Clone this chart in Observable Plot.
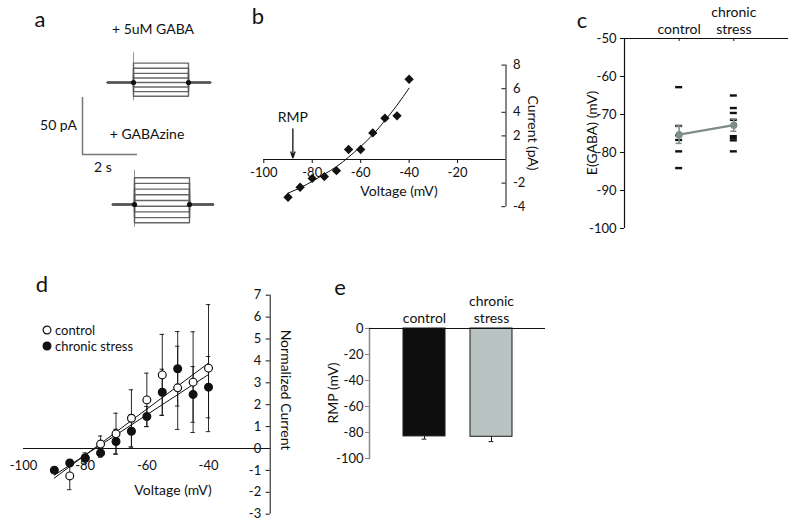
<!DOCTYPE html>
<html>
<head>
<meta charset="utf-8">
<script src="https://cdn.jsdelivr.net/npm/d3@7"></script>
<script src="https://cdn.jsdelivr.net/npm/@observablehq/plot@0.6"></script>
<style>
  body { margin: 0; background: #fff; }
  #fig { position: relative; width: 800px; height: 530px; overflow: hidden; font-family: Lato, "Noto Sans", sans-serif; color: #111; background: #fff; }
  #fig svg { overflow: visible; }
</style>
</head>
<body>
<div id="fig"></div>
<script>
// ---------- panel a: step traces ----------
const gabaStepLevels = [17, 12.5, 8, 4, 0, -4, -8, -12];            // pA
const gabazineStepLevels = [23.5, 18.5, 13.5, 8.5, 3.5, -1.5, -6.5, -11.5, -16];
const stepWindow = [0, 2];                                            // s
const gabaSweepSpan = [-0.95, 2.8];
const gabazineSweepSpan = [-0.8, 2.87];
const gabaOnsetSpike = [-16, 26];
const gabazineOnsetSpike = [-20, 30];
const scaleBar = {pA: 50, s: 2};

// ---------- panel b: I-V curve ----------
const bVoltage = [-90, -85, -80, -75, -70, -65, -60, -55, -50, -45, -40];
const bCurrent = [-3.2, -2.35, -1.6, -1.45, -0.95, 0.85, 0.85, 2.25, 3.5, 3.7, 6.8];
const bFitVoltage = [-90, -85, -80, -75, -70, -65, -60, -55, -50, -45, -40];
const bFitCurrent = [-2.85, -2.4, -1.85, -1.25, -0.6, 0.2, 1.1, 2.1, 3.3, 4.6, 6.05];
const bRMP = -88;
const bXTicks = [-100, -80, -60, -40, -20];
const bYTicks = [-4, -2, 2, 4, 6, 8];

// ---------- panel c: E(GABA) ----------
const cGroups = ["control", "chronic stress"];
const cControlCells = [-62.8, -73, -75.5, -76.7, -79.7, -84.1];
const cStressCells = [-65, -68.3, -69.6, -71.4, -75.7, -76.2, -76.8, -79.7];
const cMeans = [-75.3, -72.8];
const cSEM = [2.3, 1.6];
const cYTicks = [-50, -60, -70, -80, -90, -100];

// ---------- panel d: normalized I-V ----------
const dControlV = [-85, -80, -75, -70, -65, -60, -55, -50, -45, -40];
const dControlI = [-1.25, -0.45, 0.2, 0.67, 1.38, 2.22, 3.36, 2.77, 3.03, 3.67];
const dControlErr = [0.63, 0.25, 0.37, 0.94, 1.3, 1.22, 1.85, 1.9, 2.3, 2.9];
const dStressV = [-90, -85, -80, -75, -70, -65, -60, -55, -50, -45, -40];
const dStressI = [-0.99, -0.66, -0.43, -0.2, 0.32, 0.79, 1.46, 2.57, 3.64, 2.47, 2.8];
const dStressErr = [0.1, 0.1, 0.15, 0.2, 0.56, 0.76, 0.46, 1.05, 1.7, 1.27, 1.4];
const dControlFitV = [-90, -40];
const dControlFitI = [-1.35, 3.9];
const dStressFitV = [-90, -40];
const dStressFitI = [-1.22, 3.38];
const dXTicks = [-100, -80, -60, -40];
const dYTicks = [-3, -2, -1, 0, 1, 2, 3, 4, 5, 6, 7];

// ---------- panel e: RMP ----------
const eGroups = ["control", "chronic stress"];
const eRMP = [-83, -83.3];
const eSEM = [2.1, 3.7];
const eYTicks = [0, -20, -40, -60, -80, -100];

// ---------- helpers ----------
const FONT = "Lato, 'Noto Sans', sans-serif";
const fig = document.getElementById("fig");
const baseStyle = {fontFamily: FONT, fontSize: "13px", background: "transparent", overflow: "visible", color: "#111"};
function place(node, left, top) {
  node.style.position = "absolute";
  node.style.left = left + "px";
  node.style.top = top + "px";
  fig.appendChild(node);
}
function label(text, x, y, {size = 14, rotate = 0, anchor = "middle"} = {}) {
  const d = document.createElement("div");
  d.textContent = text;
  const tx = anchor === "middle" ? "-50%" : anchor === "end" ? "-100%" : "0";
  d.style.cssText = `position:absolute;left:${x}px;top:${y}px;font-size:${size}px;line-height:1;white-space:nowrap;transform:translate(${tx},-50%) rotate(${rotate}deg);`;
  fig.appendChild(d);
}
const fmt = d => String(d);

// ---------- panel a ----------
function sweeps(levels, span) {
  return levels.flatMap((L, k) => [
    {k, t: span[0], i: 0}, {k, t: stepWindow[0], i: 0}, {k, t: stepWindow[0], i: L},
    {k, t: stepWindow[1], i: L}, {k, t: stepWindow[1], i: 0}, {k, t: span[1], i: 0}
  ]);
}
function tracePlot(levels, span, spike) {
  return Plot.plot({
    width: 240, height: 130, margin: 0, style: baseStyle,
    x: {domain: [0, 2], range: [133, 188], axis: null},
    y: {domain: [0, 50], range: [82, 25], axis: null},
    marks: [
      Plot.ruleX([stepWindow[0]], {x: d => d, y1: spike[0], y2: spike[1], stroke: "#777", strokeWidth: 0.8}),
      Plot.line(sweeps(levels, span), {x: "t", y: "i", z: "k", stroke: "#555", strokeWidth: 1.4, strokeOpacity: 0.9}),
      Plot.dot(stepWindow, {x: d => d, y: 0, r: 2.6, fill: "#111"})
    ]
  });
}
place(tracePlot(gabaStepLevels, gabaSweepSpan, gabaOnsetSpike), 0, 0);
place(tracePlot(gabazineStepLevels, gabazineSweepSpan, gabazineOnsetSpike), 1, 122);
place(Plot.plot({
  width: 240, height: 200, margin: 0, style: baseStyle,
  x: {domain: [0, 2], range: [82, 137], axis: null},
  y: {domain: [0, 50], range: [154, 97], axis: null},
  marks: [
    Plot.ruleX([0], {y1: 0, y2: scaleBar.pA, stroke: "#777", strokeWidth: 1.5}),
    Plot.ruleY([0], {x1: 0, x2: scaleBar.s, stroke: "#777", strokeWidth: 1.5})
  ]
}), 0, 0);
label("a", 40, 19, {size: 22});
label("+ 5uM GABA", 153, 29, {size: 14});
label("+ GABAzine", 147, 134, {size: 14});
label("50 pA", 77, 125, {size: 14, anchor: "end"});
label("2 s", 103, 167, {size: 14});

// ---------- panel b ----------
const bPoints = bVoltage.map((v, k) => ({v, i: bCurrent[k]}));
const bFit = bFitVoltage.map((v, k) => ({v, i: bFitCurrent[k]}));
place(Plot.plot({
  width: 330, height: 230, margin: 0, style: baseStyle,
  x: {domain: [-100, 0], range: [33.3, 275.5], axis: null},
  y: {domain: [-4, 8], range: [206.2, 64.6], axis: null},
  marks: [
    Plot.ruleY([0], {x1: -100, x2: 0, stroke: "#111"}),
    Plot.ruleX([0], {y1: -4, y2: 8, stroke: "#111"}),
    Plot.ruleX(bXTicks, {x: d => d, y1: 0, y2: 0, insetBottom: -4, stroke: "#111"}),
    Plot.text(bXTicks, {x: d => d, y: 0, dy: 13, text: fmt, fontSize: 13, fill: "#111"}),
    Plot.ruleY(bYTicks, {y: d => d, x1: 0, x2: 0, insetLeft: -4, stroke: "#111"}),
    Plot.text(bYTicks, {x: 0, y: d => d, dx: 7, textAnchor: "start", text: fmt, fontSize: 13, fill: "#111"}),
    Plot.line(bFit, {x: "v", y: "i", curve: "natural", stroke: "#111", strokeWidth: 1}),
    Plot.dot(bPoints, {x: "v", y: "i", symbol: "diamond2", r: 4.2, fill: "#111"}),
    Plot.arrow([bRMP], {x1: d => d, x2: d => d, y1: 2.6, y2: 0.15, headLength: 7, headAngle: 40, stroke: "#111", strokeWidth: 1.3}),
    Plot.text(["RMP"], {x: bRMP, y: 2.6, dy: -7, lineAnchor: "bottom", fontSize: 14, fill: "#111"})
  ]
}), 230, 0);
label("b", 258, 16, {size: 22});
label("Voltage (mV)", 399, 191, {size: 14});
label("Current (pA)", 533, 133, {size: 14, rotate: 90});

// ---------- panel c ----------
const cCells = [
  ...cControlCells.map(v => ({g: 1, v})),
  ...cStressCells.map(v => ({g: 2, v}))
];
const cMeanData = cGroups.map((name, k) => ({name, g: k + 1, m: cMeans[k], se: cSEM[k]}));
const grey = "#7d8d8a";
place(Plot.plot({
  width: 240, height: 250, margin: 0, style: baseStyle,
  x: {domain: [0, 3], range: [64, 228], axis: null},
  y: {domain: [-100, -50], range: [228, 38], axis: null},
  marks: [
    Plot.ruleX([0], {y1: -100, y2: -50, stroke: "#111", strokeWidth: 1.2}),
    Plot.ruleY([-50], {x1: 0, x2: 3, stroke: "#111", strokeWidth: 1.2}),
    Plot.ruleY(cYTicks, {y: d => d, x1: 0, x2: 0, insetLeft: -4, stroke: "#111"}),
    Plot.text(cYTicks, {x: 0, y: d => d, dx: -8, textAnchor: "end", text: fmt, fontSize: 13, fill: "#111"}),
    Plot.ruleX(cMeanData, {x: "g", y1: -50, y2: -50, insetBottom: -3, stroke: "#111"}),
    Plot.text(cMeanData, {x: "g", y: -50, dy: -5, lineAnchor: "bottom", lineHeight: 1.15, text: d => d.name.replace(" ", "\n"), fontSize: 14, fill: "#111"}),
    Plot.ruleY(cCells, {y: "v", x1: "g", x2: "g", insetLeft: -3.5, insetRight: -3.5, stroke: "#111", strokeWidth: 2.4}),
    Plot.ruleX(cMeanData, {x: "g", y1: d => d.m - d.se, y2: d => d.m + d.se, stroke: grey, strokeWidth: 1.5}),
    Plot.ruleY(cMeanData, {y: d => d.m - d.se, x1: "g", x2: "g", insetLeft: -3, insetRight: -3, stroke: grey, strokeWidth: 1.5}),
    Plot.ruleY(cMeanData, {y: d => d.m + d.se, x1: "g", x2: "g", insetLeft: -3, insetRight: -3, stroke: grey, strokeWidth: 1.5}),
    Plot.line(cMeanData, {x: "g", y: "m", stroke: grey, strokeWidth: 2.2}),
    Plot.dot(cMeanData, {x: "g", y: "m", r: 3.6, fill: grey})
  ]
}), 560, 0);
label("c", 582, 20, {size: 22});
label("E(GABA) (mV)", 592, 133, {size: 14, rotate: -90});

// ---------- panel d ----------
const dCtrl = dControlV.map((v, k) => ({v, i: dControlI[k], e: dControlErr[k]}));
const dStress = dStressV.map((v, k) => ({v, i: dStressI[k], e: dStressErr[k]}));
const dFits = [
  ...dControlFitV.map((v, k) => ({s: "control", v, i: dControlFitI[k]})),
  ...dStressFitV.map((v, k) => ({s: "stress", v, i: dStressFitI[k]}))
];
function errMarks(data) {
  return [
    Plot.ruleX(data, {x: "v", y1: d => d.i - d.e, y2: d => d.i + d.e, stroke: "#111", strokeWidth: 0.9}),
    Plot.ruleY(data, {y: d => d.i - d.e, x1: "v", x2: "v", insetLeft: -2.2, insetRight: -2.2, stroke: "#111", strokeWidth: 0.9}),
    Plot.ruleY(data, {y: d => d.i + d.e, x1: "v", x2: "v", insetLeft: -2.2, insetRight: -2.2, stroke: "#111", strokeWidth: 0.9})
  ];
}
place(Plot.plot({
  width: 320, height: 260, margin: 0, style: baseStyle,
  x: {domain: [-100, -20], range: [23, 269.7], axis: null},
  y: {domain: [-3, 7], range: [243.7, 24.7], axis: null},
  marks: [
    Plot.ruleY([0], {x1: -100, x2: -20, stroke: "#111"}),
    Plot.ruleX([-20], {y1: -3, y2: 7, stroke: "#111"}),
    Plot.ruleY(dYTicks, {y: d => d, x1: -20, x2: -20, insetLeft: -4, stroke: "#111"}),
    Plot.text(dYTicks, {x: -20, y: d => d, dx: -9, textAnchor: "end", text: fmt, fontSize: 13, fill: "#111"}),
    Plot.text(dXTicks, {x: d => d, y: 0, dy: 17, text: fmt, fontSize: 13, fill: "#111"}),
    ...errMarks(dCtrl),
    ...errMarks(dStress),
    Plot.line(dFits, {x: "v", y: "i", z: "s", stroke: "#111", strokeWidth: 1}),
    Plot.dot(dCtrl, {x: "v", y: "i", r: 3.9, fill: "#fff", stroke: "#111", strokeWidth: 1.2}),
    Plot.dot(dStress, {x: "v", y: "i", r: 3.9, fill: "#111", stroke: "#111", strokeWidth: 1.2})
  ]
}), 0, 270);
label("d", 42, 284, {size: 22});
label("Voltage (mV)", 173, 490, {size: 14});
label("Normalized Current", 286, 390, {size: 14, rotate: 90});
// legend
(function legend() {
  const items = [{t: "control", filled: false, y: 330}, {t: "chronic stress", filled: true, y: 346}];
  for (const it of items) {
    const s = document.createElementNS("http://www.w3.org/2000/svg", "svg");
    s.setAttribute("width", 12); s.setAttribute("height", 12);
    s.style.cssText = `position:absolute;left:${47 - 6}px;top:${it.y - 6}px;`;
    const c = document.createElementNS("http://www.w3.org/2000/svg", "circle");
    c.setAttribute("cx", 6); c.setAttribute("cy", 6); c.setAttribute("r", 3.9);
    c.setAttribute("fill", it.filled ? "#111" : "#fff");
    c.setAttribute("stroke", "#111"); c.setAttribute("stroke-width", 1.2);
    s.appendChild(c); fig.appendChild(s);
    label(it.t, 55, it.y, {size: 13, anchor: "start"});
  }
})();

// ---------- panel e ----------
const eData = eGroups.map((g, k) => ({g, v: eRMP[k], se: eSEM[k]}));
place(Plot.plot({
  width: 260, height: 200, marginLeft: 69, marginRight: 15, marginTop: 48, marginBottom: 22, style: baseStyle,
  x: {type: "band", domain: eGroups, paddingInner: 0.38, paddingOuter: 0.485, axis: null},
  y: {domain: [-100, 0], axis: null},
  marks: [
    Plot.frame({anchor: "left", stroke: "#888", strokeWidth: 1.5}),
    Plot.axisY({ticks: eYTicks, tickSize: 4, tickPadding: 2, stroke: "#888", fill: "#111", tickFormat: fmt, label: null, fontSize: 13}),
    Plot.ruleX(eData, {x: "g", y1: "v", y2: d => d.v - d.se, stroke: "#111", strokeWidth: 1}),
    Plot.tickY(eData, {x: "g", y: d => d.v - d.se, inset: 18.6, stroke: "#111", strokeWidth: 1}),
    Plot.barY(eData, {x: "g", y: "v", fill: d => d.g === "control" ? "#0e0e0e" : "#b9c3c1", stroke: "#1a1a1a", strokeWidth: 1}),
    Plot.ruleY([0], {stroke: "#111", strokeWidth: 1.2}),
    Plot.text(eGroups, {x: d => d, y: 0, dy: -6, lineAnchor: "bottom", lineHeight: 1.15, text: d => d.replace(" ", "\n"), fontSize: 14, fill: "#111"})
  ]
}), 300, 280);
label("e", 340, 287, {size: 22});
label("RMP (mV)", 333, 393, {size: 14, rotate: -90});
</script>
</body>
</html>
